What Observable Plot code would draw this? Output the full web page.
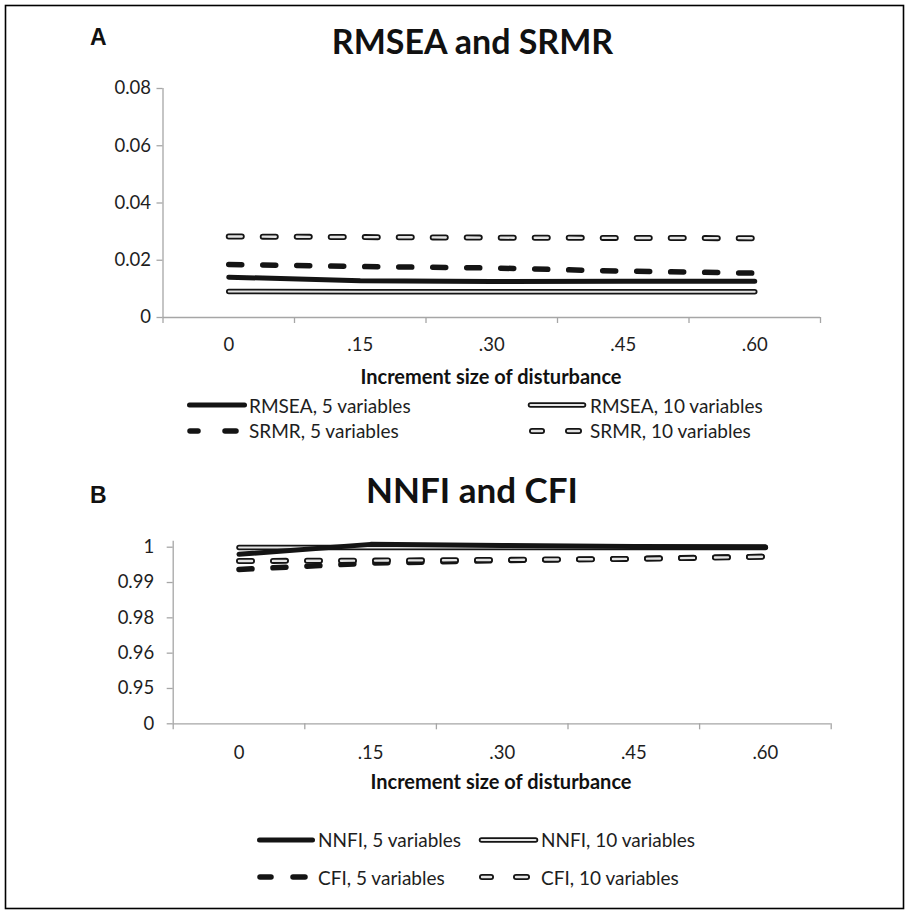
<!DOCTYPE html>
<html><head><meta charset="utf-8">
<script src="https://cdn.jsdelivr.net/npm/d3@7"></script>
<script src="https://cdn.jsdelivr.net/npm/@observablehq/plot@0.6"></script>
<style>
html,body{margin:0;padding:0;background:#fff;}
#fig{position:relative;width:911px;height:913px;overflow:hidden;background:#fff;font-family:Lato,sans-serif;}
.plotwrap{position:absolute;left:0;}
.plotwrap svg{background:transparent !important;overflow:visible;}
.plotwrap text{font-family:Lato,sans-serif;font-size:18.5px;fill:#1e1e1e;}
.plotwrap g[aria-label^="x-axis"] line, .plotwrap g[aria-label^="x-axis"] path,
.plotwrap g[aria-label^="y-axis"] line, .plotwrap g[aria-label^="y-axis"] path{stroke:#a6a6a6;stroke-width:1.3;}
#overlay{position:absolute;left:0;top:0;pointer-events:none;}
</style></head>
<body>
<div id="fig">
  <div id="pa" class="plotwrap" style="top:0px"></div>
  <div id="pb" class="plotwrap" style="top:460px"></div>
</div>
<script>
// ---- data ----
const categories = ["0", ".15", ".30", ".45", ".60"];
const xTitle = "Increment size of disturbance";

const rmsea5  = [0.0141, 0.0128, 0.0126, 0.0127, 0.0127];
const rmsea10 = [0.0091, 0.0090, 0.0090, 0.0090, 0.0090];
const srmr5   = [0.0185, 0.0178, 0.0173, 0.0162, 0.0155];
const srmr10  = [0.0283, 0.0281, 0.0279, 0.0278, 0.0277];

const nnfi5  = [0.9980, 1.0008, 1.0005, 1.0002, 1.0001];
const nnfi10 = [0.9999, 0.9999, 0.9999, 0.9999, 0.9999];
const cfi5   = [0.9937, 0.9955, 0.9962, 0.9968, 0.9974];
const cfi10  = [0.9961, 0.9962, 0.9964, 0.9967, 0.9973];

const yTicksA = [0, 0.02, 0.04, 0.06, 0.08];
const yTickLabelsA = ["0", "0.02", "0.04", "0.06", "0.08"];
const yTicksB = [1, 0.99, 0.98, 0.97, 0.96, 0.95];
const yTickLabelsB = ["1", "0.99", "0.98", "0.96", "0.95", "0"];

const titleA = "RMSEA and SRMR";
const titleB = "NNFI and CFI";
const legendA = ["RMSEA, 5 variables", "RMSEA, 10 variables", "SRMR, 5 variables", "SRMR, 10 variables"];
const legendB = ["NNFI, 5 variables", "NNFI, 10 variables", "CFI, 5 variables", "CFI, 10 variables"];

// ---- helpers ----
const pts = arr => arr.map((v, i) => ({i, v}));
const idx = categories.map((_, i) => i);
const bounds = [-0.5, ...idx.map(i => i + 0.5)];
const INK = "#141414", INNER = "#e4e4e4", AXIS = "#a6a6a6";
const DASH = "13,21";

const solid = arr => [Plot.line(pts(arr), {x: "i", y: "v", stroke: INK, strokeWidth: 5, strokeLinecap: "round", strokeLinejoin: "round"})];
const dbl = arr => [
  Plot.line(pts(arr), {x: "i", y: "v", stroke: INK, strokeWidth: 5.5, strokeLinecap: "round", strokeLinejoin: "round"}),
  Plot.line(pts(arr), {x: "i", y: "v", stroke: INNER, strokeWidth: 2, strokeLinecap: "round", strokeLinejoin: "round"})
];
const dashed = arr => [Plot.line(pts(arr), {x: "i", y: "v", stroke: INK, strokeWidth: 5.5, strokeDasharray: DASH, strokeLinecap: "round"})];
const dashedDbl = arr => [
  Plot.line(pts(arr), {x: "i", y: "v", stroke: INK, strokeWidth: 6, strokeDasharray: DASH, strokeLinecap: "round"}),
  Plot.line(pts(arr), {x: "i", y: "v", stroke: INNER, strokeWidth: 2.4, strokeDasharray: DASH, strokeLinecap: "round"})
];
const fmt = (ticks, labels) => d => labels[ticks.findIndex(t => Math.abs(t - d) < 1e-9)] ?? "";
const style = {fontFamily: "Lato, sans-serif", fontSize: "18.5px", background: "transparent", color: "#1e1e1e", overflow: "visible"};

// ---- panel A ----
const plotA = Plot.plot({
  width: 911, height: 360,
  marginLeft: 162.5, marginRight: 91, marginTop: 88, marginBottom: 43,
  style,
  x: {domain: [-0.5, 4.5], ticks: idx, tickFormat: i => categories[i], tickSize: 0, tickPadding: 20, label: null},
  y: {domain: [0, 0.08], ticks: yTicksA, tickFormat: fmt(yTicksA, yTickLabelsA), tickSize: 6, tickPadding: 6, label: null},
  marks: [
    Plot.ruleX([-0.5], {stroke: AXIS, strokeWidth: 1.3}),
    Plot.ruleY([0], {stroke: AXIS, strokeWidth: 1.3}),
    Plot.ruleX(bounds, {x: d => d, y1: 0, y2: 0, insetBottom: -6, stroke: AXIS, strokeWidth: 1.3}),
    ...dbl(rmsea10),
    ...solid(rmsea5),
    ...dashed(srmr5),
    ...dashedDbl(srmr10)
  ]
});
document.getElementById("pa").append(plotA);

// ---- panel B ----
const plotB = Plot.plot({
  width: 911, height: 310,
  marginLeft: 172.7, marginRight: 80.3, marginTop: 86.7, marginBottom: 46.7,
  style,
  x: {domain: [-0.5, 4.5], ticks: idx, tickFormat: i => categories[i], tickSize: 0, tickPadding: 22, label: null},
  y: {domain: [0.95, 1.0], ticks: yTicksB, tickFormat: fmt(yTicksB, yTickLabelsB), tickSize: 6, tickPadding: 13, label: null},
  marks: [
    Plot.ruleX([-0.5], {stroke: AXIS, strokeWidth: 1.3, insetTop: -6}),
    Plot.ruleY([0.95], {stroke: AXIS, strokeWidth: 1.3}),
    Plot.ruleX(bounds, {x: d => d, y1: 0.95, y2: 0.95, insetBottom: -6, stroke: AXIS, strokeWidth: 1.3}),
    ...dbl(nnfi10),
    ...solid(nnfi5),
    ...dashed(cfi5),
    ...dashedDbl(cfi10)
  ]
});
document.getElementById("pb").append(plotB);

// ---- overlay: titles, axis titles, legends, frame ----
const svg = d3.select("#fig").append("svg").attr("id", "overlay").attr("width", 911).attr("height", 913);
svg.append("rect").attr("x", 5.5).attr("y", 5.5).attr("width", 898).attr("height", 903)
  .attr("fill", "none").attr("stroke", "#000").attr("stroke-width", 1.6);

function txt(s, x, y, o = {}) {
  svg.append("text").attr("x", x).attr("y", y).text(s)
    .attr("font-family", o.family || "Lato, sans-serif")
    .attr("font-size", o.size || 19)
    .attr("font-weight", o.weight || "normal")
    .attr("text-anchor", o.anchor || "start")
    .attr("fill", o.fill || "#1e1e1e");
}
txt("A", 90, 45, {family: "'Liberation Sans', Arial, sans-serif", size: 23, weight: "bold", fill: "#111"});
txt("B", 90, 503, {family: "'Liberation Sans', Arial, sans-serif", size: 23, weight: "bold", fill: "#111"});
txt(titleA, 472.5, 53.5, {size: 34, weight: "bold", anchor: "middle", fill: "#111"});
txt(titleB, 472, 502.5, {size: 35, weight: "bold", anchor: "middle", fill: "#111"});
txt(xTitle, 491, 383.5, {size: 20, weight: "bold", anchor: "middle", fill: "#111"});
txt(xTitle, 501, 789, {size: 20, weight: "bold", anchor: "middle", fill: "#111"});

function seg(x1, x2, y, w, c) {
  svg.append("line").attr("x1", x1).attr("x2", x2).attr("y1", y).attr("y2", y)
    .attr("stroke", c).attr("stroke-width", w).attr("stroke-linecap", "round");
}
function swatch(kind, x1, x2, y, dashes) {
  if (kind === "solid") seg(x1 + 2.5, x2 - 2.5, y, 5, INK);
  else if (kind === "dbl") { seg(x1 + 2.5, x2 - 2.5, y, 5.5, INK); seg(x1 + 2.5, x2 - 2.5, y, 2, INNER); }
  else if (kind === "dash") dashes.forEach(([a, b]) => seg(a + 3, b - 3, y, 5.5, INK));
  else dashes.forEach(([a, b]) => { seg(a + 3, b - 3, y, 6, INK); seg(a + 3, b - 3, y, 2.4, INNER); });
}
// legend A
swatch("solid", 187, 247, 405);
txt(legendA[0], 249, 412.5);
swatch("dbl", 528, 586, 405);
txt(legendA[1], 590, 412.5);
swatch("dash", 0, 0, 431, [[187, 201], [222, 239]]);
txt(legendA[2], 249, 438);
swatch("dashdbl", 0, 0, 431, [[529, 545], [565, 582]]);
txt(legendA[3], 590, 438);
// legend B
swatch("solid", 257, 315, 840);
txt(legendB[0], 318, 846.5);
swatch("dbl", 479, 538, 840);
txt(legendB[1], 541, 846.5);
swatch("dash", 0, 0, 877, [[257, 274], [290, 308]]);
txt(legendB[2], 318, 884.5);
swatch("dashdbl", 0, 0, 877, [[479, 494], [513, 530]]);
txt(legendB[3], 541, 884.5);
</script>
</body></html>
